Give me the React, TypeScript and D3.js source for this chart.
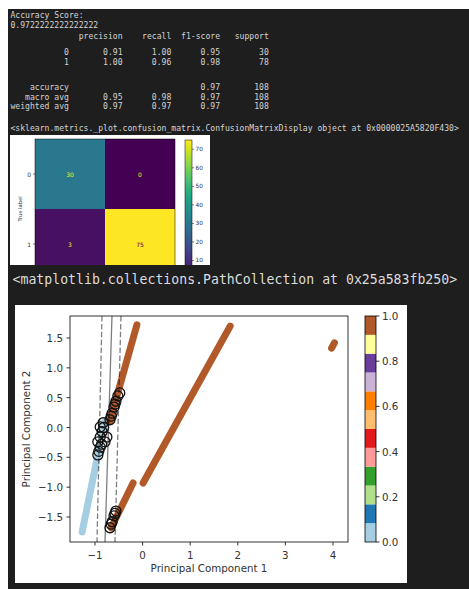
import React from 'react';
import * as d3 from 'd3';

const W = 469;
const H = 589;

// ---------- classification report (text) ----------
const accuracyLines = ['Accuracy Score:', '0.9722222222222222'];
const reportHeader = ['precision', 'recall', 'f1-score', 'support'];
const reportRows: [string, string[]][] = [
  ['0', ['0.91', '1.00', '0.95', '30']],
  ['1', ['1.00', '0.96', '0.98', '78']],
  ['accuracy', ['', '', '0.97', '108']],
  ['macro avg', ['0.95', '0.98', '0.97', '108']],
  ['weighted avg', ['0.97', '0.97', '0.97', '108']],
];
const displayRepr = '<sklearn.metrics._plot.confusion_matrix.ConfusionMatrixDisplay object at 0x0000025A5820F430>';
const pathRepr = '<matplotlib.collections.PathCollection at 0x25a583fb250>';

// ---------- confusion matrix ----------
const cmLabels = ['0', '1'];
const cmValues = [
  [30, 0],
  [3, 75],
];
const cmTicks = [10, 20, 30, 40, 50, 60, 70];

// ---------- scatter (PCA + SVM) ----------
const xTicks = [-1, 0, 1, 2, 3, 4];
const yTicks = [-1.5, -1, -0.5, 0, 0.5, 1, 1.5];
const cbTicks = [0, 0.2, 0.4, 0.6, 0.8, 1.0];

// dense strands of points (class 0 = light blue, class 1 = brown), as vertices
const class0Strands: [number, number][][] = [
  [[-1.27, -1.75], [-0.80, 0.09]],
];
const class1Strands: [number, number][][] = [
  [[-0.69, 0.10], [-0.12, 1.72]],
  [[-0.66, -1.68], [-0.20, -0.93]],
  [[0.01, -0.93], [1.84, 1.70]],
  [[3.97, 1.33], [4.03, 1.42]],
];
const supportVectors: [number, number][] = [
  [-0.94, -0.46], [-0.92, -0.40], [-0.89, -0.33], [-0.94, -0.24], [-0.89, -0.16], [-0.85, -0.07],
  [-0.89, 0.01], [-0.83, 0.08], [-0.75, -0.16], [-0.79, -0.24], [-0.86, -0.28], [-0.82, 0.0],
  [-0.685, 0.13], [-0.66, 0.19], [-0.64, 0.24], [-0.60, 0.34], [-0.58, 0.39], [-0.56, 0.44],
  [-0.52, 0.53], [-0.48, 0.58],
  [-0.685, -1.68], [-0.66, -1.62], [-0.64, -1.58], [-0.60, -1.48], [-0.58, -1.44], [-0.56, -1.40],
];
// decision function contours (margin -1, 0, +1) as [top, bottom] points
const boundaryLines: { pts: [number, number][]; dashed: boolean }[] = [
  { pts: [[-0.853, 1.869], [-0.958, -1.919]], dashed: true },
  { pts: [[-0.643, 1.869], [-0.79, -1.919]], dashed: false },
  { pts: [[-0.454, 1.869], [-0.58, -1.919]], dashed: true },
];

const fmtRow = (name: string, cols: string[]) =>
  name.padStart(12) + ' ' + cols.map((c) => ' ' + c.padStart(9)).join('');

export default function App() {
  const mono = 'DejaVu Sans Mono, Liberation Mono, monospace';
  const sans = 'DejaVu Sans, sans-serif';
  const termColor = '#d4d4d4';

  const textLines = [
    ...accuracyLines,
    fmtRow('', reportHeader),
    ...reportRows.map(([n, c]) => fmtRow(n, c)),
    displayRepr,
  ];
  const baselines = [18, 27.5, 38.5, 55, 65, 89.5, 99.5, 109, 130.5];

  // confusion matrix scales
  const cmX = d3.scaleBand<string>().domain(cmLabels).range([35, 175]);
  const cmY = d3.scaleBand<string>().domain(cmLabels).range([139, 279]);
  const cmColor = d3.scaleSequential(d3.interpolateViridis).domain([0, 75]);
  const cbY = d3.scaleLinear().domain([0, 75]).range([279, 140]);
  const thresh = 75 / 2;

  // scatter scales
  const xs = d3.scaleLinear().domain([-1.525, 4.315]).range([70, 348]);
  const ys = d3.scaleLinear().domain([-1.919, 1.869]).range([542, 316]);
  const line = d3
    .line<[number, number]>()
    .x((d) => xs(d[0]))
    .y((d) => ys(d[1]));
  const cb2 = d3.scaleLinear().domain([0, 1]).range([542, 316]);
  const paired = d3.schemePaired;
  const c0 = paired[0];
  const c1 = paired[11];

  const gradStops = d3.range(0, 1.0001, 0.05);

  return (
    <svg
      width={W}
      height={H}
      style={{ position: 'absolute', left: 0, top: 0, display: 'block' }}
      xmlns="http://www.w3.org/2000/svg"
    >
      <defs>
        <linearGradient id="viridis" x1="0" y1="1" x2="0" y2="0">
          {gradStops.map((t) => (
            <stop key={t} offset={t} stopColor={d3.interpolateViridis(t)} />
          ))}
        </linearGradient>
        <clipPath id="cmClip">
          <rect x={10} y={135} width={200} height={130} />
        </clipPath>
        <clipPath id="axClip">
          <rect x={70} y={316} width={278} height={226} />
        </clipPath>
      </defs>
      <rect x={0} y={0} width={W} height={H} fill="#ffffff" />
      <rect x={8} y={9} width={W - 8} height={H - 9} fill="#1e1e1e" />

      {/* terminal text */}
      {textLines.map((t, i) => (
        <text
          key={i}
          x={10.5}
          y={baselines[i]}
          fontFamily={mono}
          fontSize={8.1}
          fill={termColor}
          xmlSpace="preserve"
          style={{ whiteSpace: 'pre' }}
        >
          {t}
        </text>
      ))}

      {/* confusion matrix figure */}
      <g clipPath="url(#cmClip)">
        <rect x={10} y={135} width={200} height={130} fill="#ffffff" />
        {cmValues.map((row, i) =>
          row.map((v, j) => (
            <g key={`${i}-${j}`}>
              <rect
                x={cmX(cmLabels[j])!}
                y={cmY(cmLabels[i])!}
                width={cmX.bandwidth()}
                height={cmY.bandwidth()}
                fill={cmColor(v)}
              />
              <text
                x={cmX(cmLabels[j])! + cmX.bandwidth() / 2}
                y={cmY(cmLabels[i])! + cmY.bandwidth() / 2}
                textAnchor="middle"
                dominantBaseline="central"
                fontFamily={sans}
                fontSize={6}
                fill={v < thresh ? cmColor(75) : cmColor(0)}
              >
                {v}
              </text>
            </g>
          ))
        )}
        <rect x={35} y={139} width={140} height={140} fill="none" stroke="#000" strokeWidth={0.5} />
        {cmLabels.map((l) => (
          <g key={l}>
            <line
              x1={33}
              x2={35}
              y1={cmY(l)! + cmY.bandwidth() / 2}
              y2={cmY(l)! + cmY.bandwidth() / 2}
              stroke="#000"
              strokeWidth={0.5}
            />
            <text
              x={31}
              y={cmY(l)! + cmY.bandwidth() / 2}
              textAnchor="end"
              dominantBaseline="central"
              fontFamily={sans}
              fontSize={6}
              fill="#333"
            >
              {l}
            </text>
          </g>
        ))}
        <text
          transform={`translate(22,209) rotate(-90)`}
          textAnchor="middle"
          fontFamily={sans}
          fontSize={5.2}
          fill="#333"
        >
          True label
        </text>
        <rect x={185} y={140} width={7} height={139} fill="url(#viridis)" />
        <rect x={185} y={140} width={7} height={139} fill="none" stroke="#000" strokeWidth={0.5} />
        {cmTicks.map((t) => (
          <g key={t}>
            <line x1={192} x2={194} y1={cbY(t)} y2={cbY(t)} stroke="#000" strokeWidth={0.5} />
            <text
              x={195.5}
              y={cbY(t)}
              dominantBaseline="central"
              fontFamily={sans}
              fontSize={5.8}
              fill="#333"
            >
              {t}
            </text>
          </g>
        ))}
      </g>

      {/* PathCollection repr */}
      <text
        x={12.5}
        y={284}
        fontFamily={mono}
        fontSize={13.2}
        fill="#dcdcdc"
        xmlSpace="preserve"
        style={{ whiteSpace: 'pre' }}
      >
        {pathRepr}
      </text>

      {/* scatter figure */}
      <rect x={15} y={305} width={392} height={278} fill="#ffffff" />
      <g clipPath="url(#axClip)">
        {class0Strands.map((s, i) => (
          <path
            key={`c0-${i}`}
            d={line(s)!}
            fill="none"
            stroke={c0}
            strokeWidth={7}
            strokeLinecap="round"
          />
        ))}
        {class1Strands.map((s, i) => (
          <path
            key={`c1-${i}`}
            d={line(s)!}
            fill="none"
            stroke={c1}
            strokeWidth={7}
            strokeLinecap="round"
          />
        ))}
        {boundaryLines.map((b, i) => (
          <path
            key={`b-${i}`}
            d={line(b.pts)!}
            fill="none"
            stroke="#000"
            strokeOpacity={0.5}
            strokeWidth={1.3}
            strokeDasharray={b.dashed ? '5.5 2.4' : undefined}
          />
        ))}
        {supportVectors.map((p, i) => (
          <circle
            key={`sv-${i}`}
            cx={xs(p[0])}
            cy={ys(p[1])}
            r={5}
            fill="none"
            stroke="#111"
            strokeWidth={1.3}
          />
        ))}
      </g>
      <rect x={70} y={316} width={278} height={226} fill="none" stroke="#000" strokeWidth={0.8} />
      {xTicks.map((t) => (
        <g key={`xt${t}`}>
          <line x1={xs(t)} x2={xs(t)} y1={542} y2={545.5} stroke="#000" strokeWidth={0.8} />
          <text x={xs(t)} y={559} textAnchor="middle" fontFamily={sans} fontSize={10.3} fill="#333">
            {t < 0 ? `\u2212${Math.abs(t)}` : `${t}`}
          </text>
        </g>
      ))}
      {yTicks.map((t) => (
        <g key={`yt${t}`}>
          <line x1={66.5} x2={70} y1={ys(t)} y2={ys(t)} stroke="#000" strokeWidth={0.8} />
          <text
            x={63}
            y={ys(t)}
            textAnchor="end"
            dominantBaseline="central"
            fontFamily={sans}
            fontSize={10.3}
            fill="#333"
          >
            {t < 0 ? `\u2212${Math.abs(t).toFixed(1)}` : t.toFixed(1)}
          </text>
        </g>
      ))}
      <text x={209} y={571.5} textAnchor="middle" fontFamily={sans} fontSize={10.3} fill="#333">
        Principal Component 1
      </text>
      <text
        transform={`translate(30,429) rotate(-90)`}
        textAnchor="middle"
        fontFamily={sans}
        fontSize={10.3}
        fill="#333"
      >
        Principal Component 2
      </text>

      {/* Paired colorbar */}
      {paired.map((c, i) => (
        <rect
          key={`pb${i}`}
          x={365}
          y={cb2((i + 1) / paired.length)}
          width={11}
          height={cb2(i / paired.length) - cb2((i + 1) / paired.length)}
          fill={c}
        />
      ))}
      <rect x={365} y={316} width={11} height={226} fill="none" stroke="#000" strokeWidth={0.8} />
      {cbTicks.map((t) => (
        <g key={`cb${t}`}>
          <line x1={376} x2={379.5} y1={cb2(t)} y2={cb2(t)} stroke="#000" strokeWidth={0.8} />
          <text
            x={382}
            y={cb2(t)}
            dominantBaseline="central"
            fontFamily={sans}
            fontSize={10.3}
            fill="#333"
          >
            {t.toFixed(1)}
          </text>
        </g>
      ))}
    </svg>
  );
}
